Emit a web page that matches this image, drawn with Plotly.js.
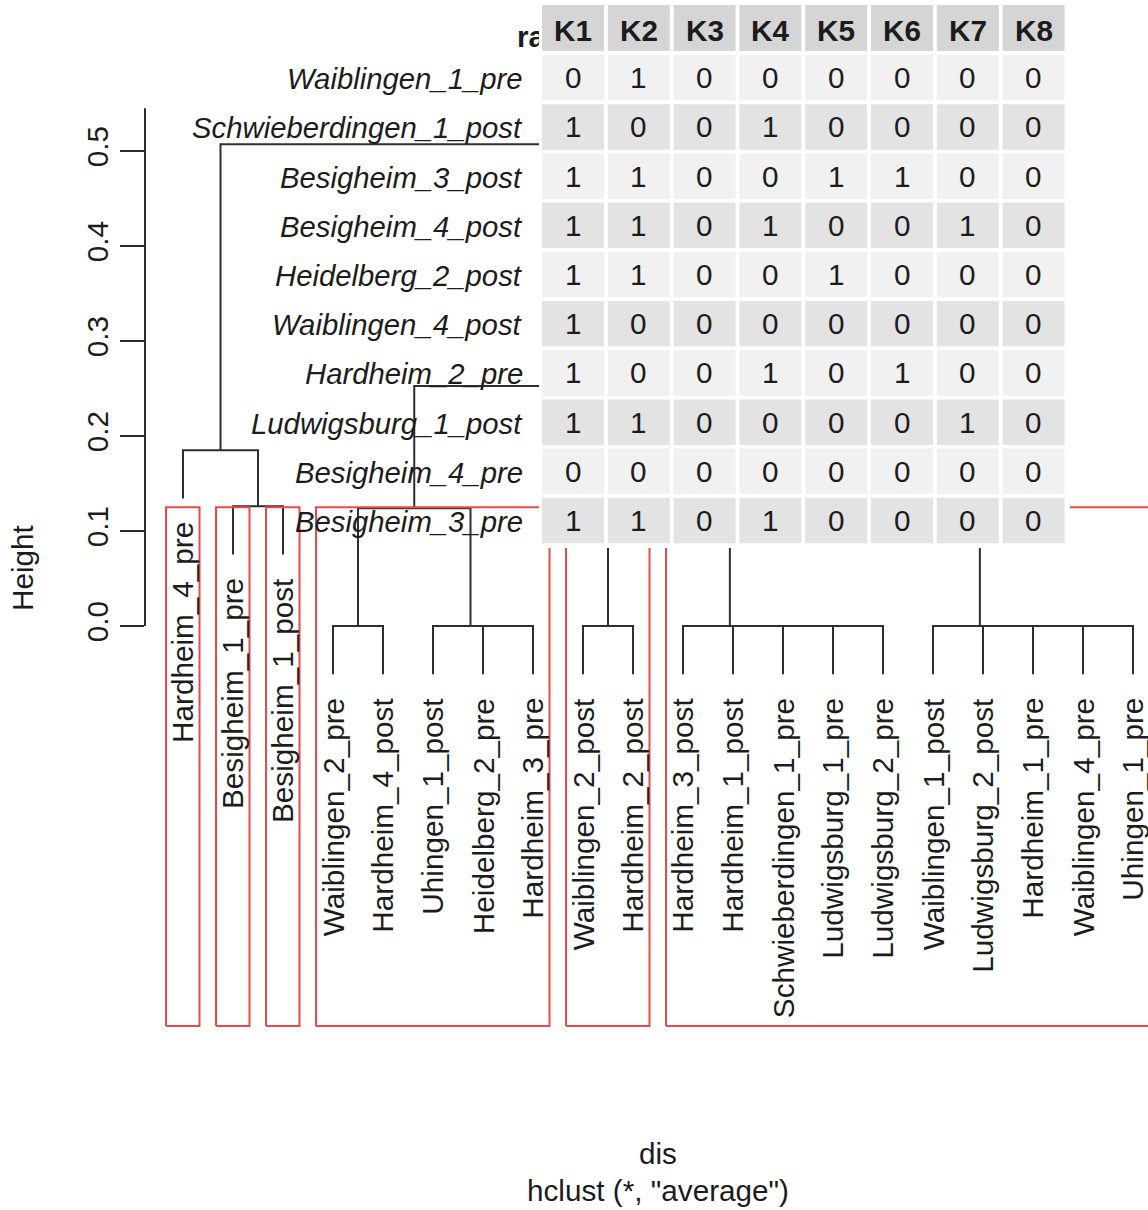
<!DOCTYPE html>
<html><head><meta charset="utf-8">
<script src="https://cdn.plot.ly/plotly-3.0.1.min.js"></script>
<style>html,body{margin:0;padding:0;background:#fff}</style>
</head><body><div id="chart" style="width:1148px;height:1210px"></div>
<script>
// ---------- data ----------
const leafLabels = ['Hardheim_4_pre','Besigheim_1_pre','Besigheim_1_post','Waiblingen_2_pre','Hardheim_4_post',
  'Uhingen_1_post','Heidelberg_2_pre','Hardheim_3_pre','Waiblingen_2_post','Hardheim_2_post',
  'Hardheim_3_post','Hardheim_1_post','Schwieberdingen_1_pre','Ludwigsburg_1_pre','Ludwigsburg_2_pre',
  'Waiblingen_1_post','Ludwigsburg_2_post','Hardheim_1_pre','Waiblingen_4_pre','Uhingen_1_pre'];
// R-style merge matrix (negative = leaf position, positive = earlier merge)
const mergeLeft   = [-4,-7,-6,-9,-14,-13,-12,-11,-19,-18,-17,-16, 8, 1,-2,-1, 4,14,16];
const mergeRight  = [-5,-8, 2,-10,-15, 5, 6, 7,-20, 9,10,11,12, 3,-3,15,13,17,18];
const mergeHeight = [0,0,0,0,0,0,0,0,0,0,0,0,0.105,0.124,0.126,0.185,0.200,0.2526,0.507];
const clusterCount = 6;
const yTicks = [0,0.1,0.2,0.3,0.4,0.5];
const yTickText = ['0.0','0.1','0.2','0.3','0.4','0.5'];

const tableRows = ['Waiblingen_1_pre','Schwieberdingen_1_post','Besigheim_3_post','Besigheim_4_post',
  'Heidelberg_2_post','Waiblingen_4_post','Hardheim_2_pre','Ludwigsburg_1_post','Besigheim_4_pre','Besigheim_3_pre'];
const tableCols = ['K1','K2','K3','K4','K5','K6','K7','K8'];
const K1 = [0,1,1,1,1,1,1,1,0,1];
const K2 = [1,0,1,1,1,0,0,1,0,1];
const K3 = [0,0,0,0,0,0,0,0,0,0];
const K4 = [0,1,0,1,0,0,1,0,0,1];
const K5 = [0,0,1,0,1,0,0,0,0,0];
const K6 = [0,0,1,0,0,0,1,0,0,0];
const K7 = [0,0,0,1,0,0,0,1,0,0];
const K8 = [0,0,0,0,0,0,0,0,0,0];
const tableValues = [K1,K2,K3,K4,K5,K6,K7,K8];
const tableCorner = 'ra';

// ---------- layout constants ----------
const W = 1148, H = 1210, ML = 145;
const FONT = 'Liberation Sans, Arial, Helvetica, sans-serif';
const FS = 29.7;
const INK = '#1c1c1c';
const yRange = [-0.6147, 0.6589];
const xRange = [0.24, 20.3];
const boxBottom = -0.421;
const axisTop = 0.545;

const px = v => (v - ML) / (W - ML);   // pixel x -> paper x
const py = v => 1 - v / H;             // pixel y -> paper y

// ---------- dendrogram geometry ----------
const maxH = Math.max(...mergeHeight);
const hang = 0.1 * maxH;
const nodeX = [];
const leafEnd = new Array(leafLabels.length).fill(0);
const cx = c => c < 0 ? -c : nodeX[c - 1];
for (let k = 0; k < mergeHeight.length; k++) nodeX.push((cx(mergeLeft[k]) + cx(mergeRight[k])) / 2);

const segX = [], segY = [];
for (let k = 0; k < mergeHeight.length; k++) {
  const h = mergeHeight[k];
  const a = mergeLeft[k], b = mergeRight[k];
  const ya = a < 0 ? h - hang : mergeHeight[a - 1];
  const yb = b < 0 ? h - hang : mergeHeight[b - 1];
  if (a < 0) leafEnd[-a - 1] = h - hang;
  if (b < 0) leafEnd[-b - 1] = h - hang;
  segX.push(cx(a), cx(a), cx(b), cx(b), null);
  segY.push(ya, h, h, yb, null);
}

// cut tree into clusters
const sortedH = [...mergeHeight].sort((p, q) => q - p);
const boxTop = (sortedH[clusterCount - 2] + sortedH[clusterCount - 1]) / 2;
let clusters = [mergeHeight.length]; // merge ids (1-based); negative for leaf
while (clusters.length < clusterCount) {
  let best = -1, bh = -1;
  clusters.forEach((c, i) => { if (c > 0 && mergeHeight[c - 1] > bh) { bh = mergeHeight[c - 1]; best = i; } });
  const c = clusters[best];
  clusters.splice(best, 1, mergeLeft[c - 1], mergeRight[c - 1]);
}
function leavesOf(c) { return c < 0 ? [-c] : leavesOf(mergeLeft[c - 1]).concat(leavesOf(mergeRight[c - 1])); }
const boxX = [], boxY = [];
clusters.forEach(c => {
  const lv = leavesOf(c);
  const x0 = Math.min(...lv) - 0.34, x1 = Math.max(...lv) + 0.33;
  boxX.push(x0, x1, x1, x0, x0, null);
  boxY.push(boxBottom, boxBottom, boxTop, boxTop, boxBottom, null);
});

const traces = [
  { type: 'scatter', mode: 'lines', x: segX, y: segY, line: { color: '#2e2e2e', width: 2 }, hoverinfo: 'skip', showlegend: false },
  { type: 'scatter', mode: 'lines', x: boxX, y: boxY, line: { color: 'rgb(236,72,72)', width: 2 }, hoverinfo: 'skip', showlegend: false },
  { type: 'scatter', mode: 'text', x: [1 + (517 - 183) / 50], y: [(626 - 40) / 950], text: [tableCorner],
    textposition: 'middle right', textfont: { family: FONT, size: FS, color: INK, weight: 'bold' },
    cliponaxis: false, hoverinfo: 'skip', showlegend: false }
];

// ---------- annotations ----------
const annotations = [];
leafLabels.forEach((lab, i) => {
  annotations.push({ x: i + 1, y: leafEnd[i], xref: 'x', yref: 'y', text: lab, textangle: -90,
    xanchor: 'center', yanchor: 'top', yshift: -22, showarrow: false,
    font: { family: FONT, size: FS, color: INK } });
});
annotations.push({ x: px(22), y: py(568), xref: 'paper', yref: 'paper', text: 'Height', textangle: -90, showarrow: false,
  font: { family: FONT, size: FS, color: INK }, xanchor: 'center', yanchor: 'middle' });
annotations.push({ x: px(658), y: py(1153), xref: 'paper', yref: 'paper', text: 'dis', showarrow: false,
  font: { family: FONT, size: FS, color: INK }, xanchor: 'center', yanchor: 'middle' });
annotations.push({ x: px(658), y: py(1190), xref: 'paper', yref: 'paper', text: 'hclust (*, "average")', showarrow: false,
  font: { family: FONT, size: FS, color: INK }, xanchor: 'center', yanchor: 'middle' });

// table geometry
const colX0 = 542, colPitch = 65.8, colW = 62;
const headY0 = 5, headY1 = 51;
const rowY0 = 55, rowPitch = 49.2, rowH = 45.5;
const shapes = [];
shapes.push({ type: 'line', xref: 'paper', yref: 'y', x0: 0, x1: 0, y0: 0, y1: axisTop,
  line: { color: '#2a2a2a', width: 2 } });
shapes.push({ type: 'rect', xref: 'paper', yref: 'paper', layer: 'above', x0: px(539), x1: px(1070),
  y0: py(2), y1: py(548), fillcolor: '#ffffff', line: { width: 0 } });
tableCols.forEach((c, j) => {
  const x0 = colX0 + colPitch * j, x1 = x0 + colW;
  shapes.push({ type: 'rect', xref: 'paper', yref: 'paper', layer: 'above', x0: px(x0), x1: px(x1),
    y0: py(headY0), y1: py(headY1), fillcolor: '#d5d5d5', line: { width: 0 } });
  annotations.push({ x: px((x0 + x1) / 2), y: py(30), xref: 'paper', yref: 'paper',
    xanchor: 'center', yanchor: 'middle',
    text: '<b>' + c + '</b>', showarrow: false, font: { family: FONT, size: FS, color: INK } });
  tableRows.forEach((r, i) => {
    const y0 = rowY0 + rowPitch * i, y1 = y0 + rowH;
    shapes.push({ type: 'rect', xref: 'paper', yref: 'paper', layer: 'above', x0: px(x0), x1: px(x1),
      y0: py(y0), y1: py(y1), fillcolor: i % 2 === 0 ? '#f1f1f1' : '#e3e3e3', line: { width: 0 } });
    annotations.push({ x: px((x0 + x1) / 2), y: py((y0 + y1) / 2), xref: 'paper', yref: 'paper',
      xanchor: 'center', yanchor: 'middle',
      text: String(tableValues[j][i]), showarrow: false, font: { family: FONT, size: FS, color: INK } });
  });
});
tableRows.forEach((r, i) => {
  const yc = rowY0 + rowPitch * i + rowH / 2 + 1;
  annotations.push({ x: px(525), y: py(yc), xref: 'paper', yref: 'paper', xanchor: 'right', yanchor: 'middle',
    text: '<i>' + r + '</i>', showarrow: false, font: { family: FONT, size: 29.3, color: INK } });
});

const layout = {
  width: W, height: H,
  margin: { l: ML, r: 0, t: 0, b: 0, pad: 0 },
  paper_bgcolor: '#ffffff', plot_bgcolor: '#ffffff',
  showlegend: false,
  xaxis: { range: xRange, visible: false, fixedrange: true },
  yaxis: { range: yRange, tickvals: yTicks, ticktext: yTickText, tickangle: -90,
    ticks: 'outside', ticklen: 24, tickwidth: 2, tickcolor: '#2a2a2a',
    showgrid: false, zeroline: false, showline: false, fixedrange: true,
    tickfont: { family: FONT, size: FS, color: INK } },
  shapes: shapes,
  annotations: annotations
};
Plotly.newPlot('chart', traces, layout, { displayModeBar: false, staticPlot: true });
</script></body></html>
